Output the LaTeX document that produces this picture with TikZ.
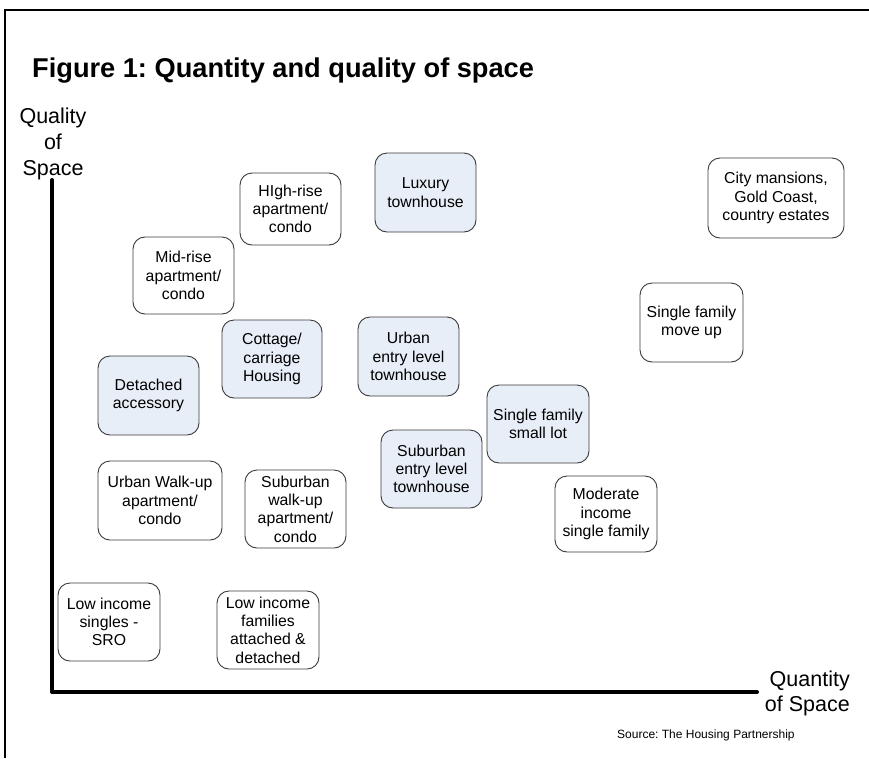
\documentclass[tikz,border=0pt]{standalone}
\usepackage{fontspec}
\setmainfont{Liberation Sans}
\frenchspacing
\definecolor{boxblue}{HTML}{E8EEF8}
\definecolor{boxline}{HTML}{3A3A3A}
\tikzset{
  hbox/.style={draw=boxline, line width=0.9pt, rounded corners=12pt, inner sep=0pt,
    align=center, font=\fontsize{15.8}{18.3}\selectfont},
  plainbox/.style={hbox, fill=white},
  bluebox/.style={hbox, fill=boxblue},
  axis/.style={line width=4pt, line cap=round, line join=round},
  frame/.style={line width=2pt},
}
\newcommand{\hb}[7]{% style, name, cx, cy, w, h, text
  \node[#1, minimum width=#5pt, minimum height=#6pt] (#2) at (#3,#4) {#7};}
\begin{document}
\begin{tikzpicture}[x=1pt,y=-1pt]
\useasboundingbox (0,0) rectangle (869,758);
\fill[white] (0,0) rectangle (869,758);
% frame
\coordinate (fbl) at (5,758);
\coordinate (ftl) at (5,10);
\coordinate (ftr) at (869,10);
\draw[frame] (fbl) -- (ftl) -- (ftr);
% title
\node[anchor=base west, inner sep=0pt, font=\fontsize{27.2}{32}\selectfont\bfseries] (title) at (32,77) {Figure 1: Quantity and quality of space};
% axes
\coordinate (ytop) at (52,180);
\coordinate (origin) at (52,692);
\coordinate (xend) at (757,692);
\draw[axis] (ytop) -- (origin) -- (xend);
\node[anchor=north, inner sep=0pt, align=center, font=\fontsize{21.5}{26}\selectfont] (ylab) at (53,107.5) {Quality\\of\\Space};
\node[anchor=north east, inner sep=0pt, align=right, font=\fontsize{21.5}{25}\selectfont] (xlab) at (850,671) {Quantity\\of Space};
\node[anchor=base west, inner sep=0pt, font=\fontsize{12}{14}\selectfont] (src) at (617,738) {Source: The Housing Partnership};
% boxes
\hb{plainbox}{highrise}{290.5}{209}{101}{72}{HIgh-rise\\apartment/\\condo}
\hb{bluebox}{luxury}{425.5}{192.5}{101}{79}{Luxury\\townhouse}
\hb{plainbox}{city}{776}{198}{136}{80}{City mansions,\\Gold Coast,\\country estates}
\hb{plainbox}{midrise}{183.5}{275.5}{101}{77}{Mid-rise\\apartment/\\condo}
\hb{plainbox}{sfmove}{691.5}{322.5}{103}{79}{Single family\\move up}
\hb{bluebox}{cottage}{272}{359}{100}{78}{Cottage/\\carriage\\Housing}
\hb{bluebox}{urbanentry}{408.5}{356.5}{101}{79}{Urban\\entry level\\townhouse}
\hb{bluebox}{detached}{148.5}{395.5}{101}{79}{Detached\\accessory}
\hb{bluebox}{sfsmall}{538}{424}{102}{78}{Single family\\small lot}
\hb{bluebox}{suburbanentry}{431.5}{469}{101}{78}{Suburban\\entry level\\townhouse}
\hb{plainbox}{urbanwalk}{160}{500.5}{124}{79}{Urban Walk-up\\apartment/\\condo}
\hb{plainbox}{suburbanwalk}{295.5}{509}{101}{78}{Suburban\\walk-up\\apartment/\\condo}
\hb{plainbox}{moderate}{606}{514}{102}{76}{Moderate\\income\\single family}
\hb{plainbox}{lowsingles}{109}{622}{102}{78}{Low income\\singles -\\SRO}
\hb{plainbox}{lowfamilies}{268}{630}{102}{78}{Low income\\families\\attached \&\\detached}
\end{tikzpicture}
\end{document}
